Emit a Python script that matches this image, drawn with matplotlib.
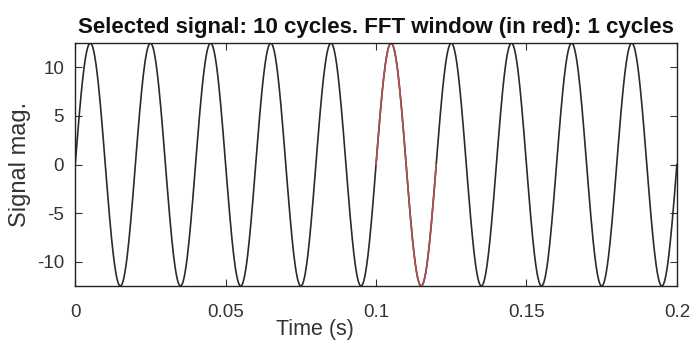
import numpy as np
import matplotlib
matplotlib.use("Agg")
import matplotlib.pyplot as plt

# Signal parameters
amplitude = 12.5          # peak magnitude
n_cycles = 10             # cycles shown
duration = 0.2            # seconds
window_start = 0.1        # FFT window (red) start, s
window_cycles = 1         # cycles in FFT window
n_samples = 2001

xticks = [0, 0.05, 0.1, 0.15, 0.2]
xticklabels = ["0", "0.05", "0.1", "0.15", "0.2"]
yticks = [-10, -5, 0, 5, 10]
yticklabels = ["-10", "-5", "0", "5", "10"]

freq = n_cycles / duration
t = np.linspace(0, duration, n_samples)
sig = amplitude * np.sin(2 * np.pi * freq * t)
window_end = window_start + window_cycles / freq
mask = (t >= window_start) & (t <= window_end)

plt.rcParams['font.family'] = ['Liberation Sans', 'DejaVu Sans']

fig = plt.figure(figsize=(6.9, 3.45), dpi=100)
ax = fig.add_axes([0.109, 0.171, 0.872, 0.704])

ax.plot(t, sig, color="#2a2a2a", lw=1.2)
ax.plot(t[mask], sig[mask], color="#b05050", lw=1.2)

ax.set_xlim(0, duration)
ax.set_ylim(-amplitude, amplitude)
ax.set_xticks(xticks)
ax.set_xticklabels(xticklabels)
ax.set_yticks(yticks)
ax.set_yticklabels(yticklabels)
ax.tick_params(direction="in", length=5, width=0.8, top=True, right=True,
               labelsize=13.5, colors="#333333", pad=13)
ax.tick_params(axis="y", pad=8)
for s in ax.spines.values():
    s.set_linewidth(1.0)
    s.set_color("#222222")

ax.set_title("Selected signal: 10 cycles. FFT window (in red): 1 cycles",
             fontsize=16, fontweight="bold", pad=7, color="#111111")
ax.set_ylabel("Signal mag.", fontsize=17, labelpad=4, color="#333333")
fig.text(0.456, 0.045, "Time (s)", fontsize=15.5, ha="center", va="center",
         color="#333333")

fig.savefig("out.png", dpi=100)
